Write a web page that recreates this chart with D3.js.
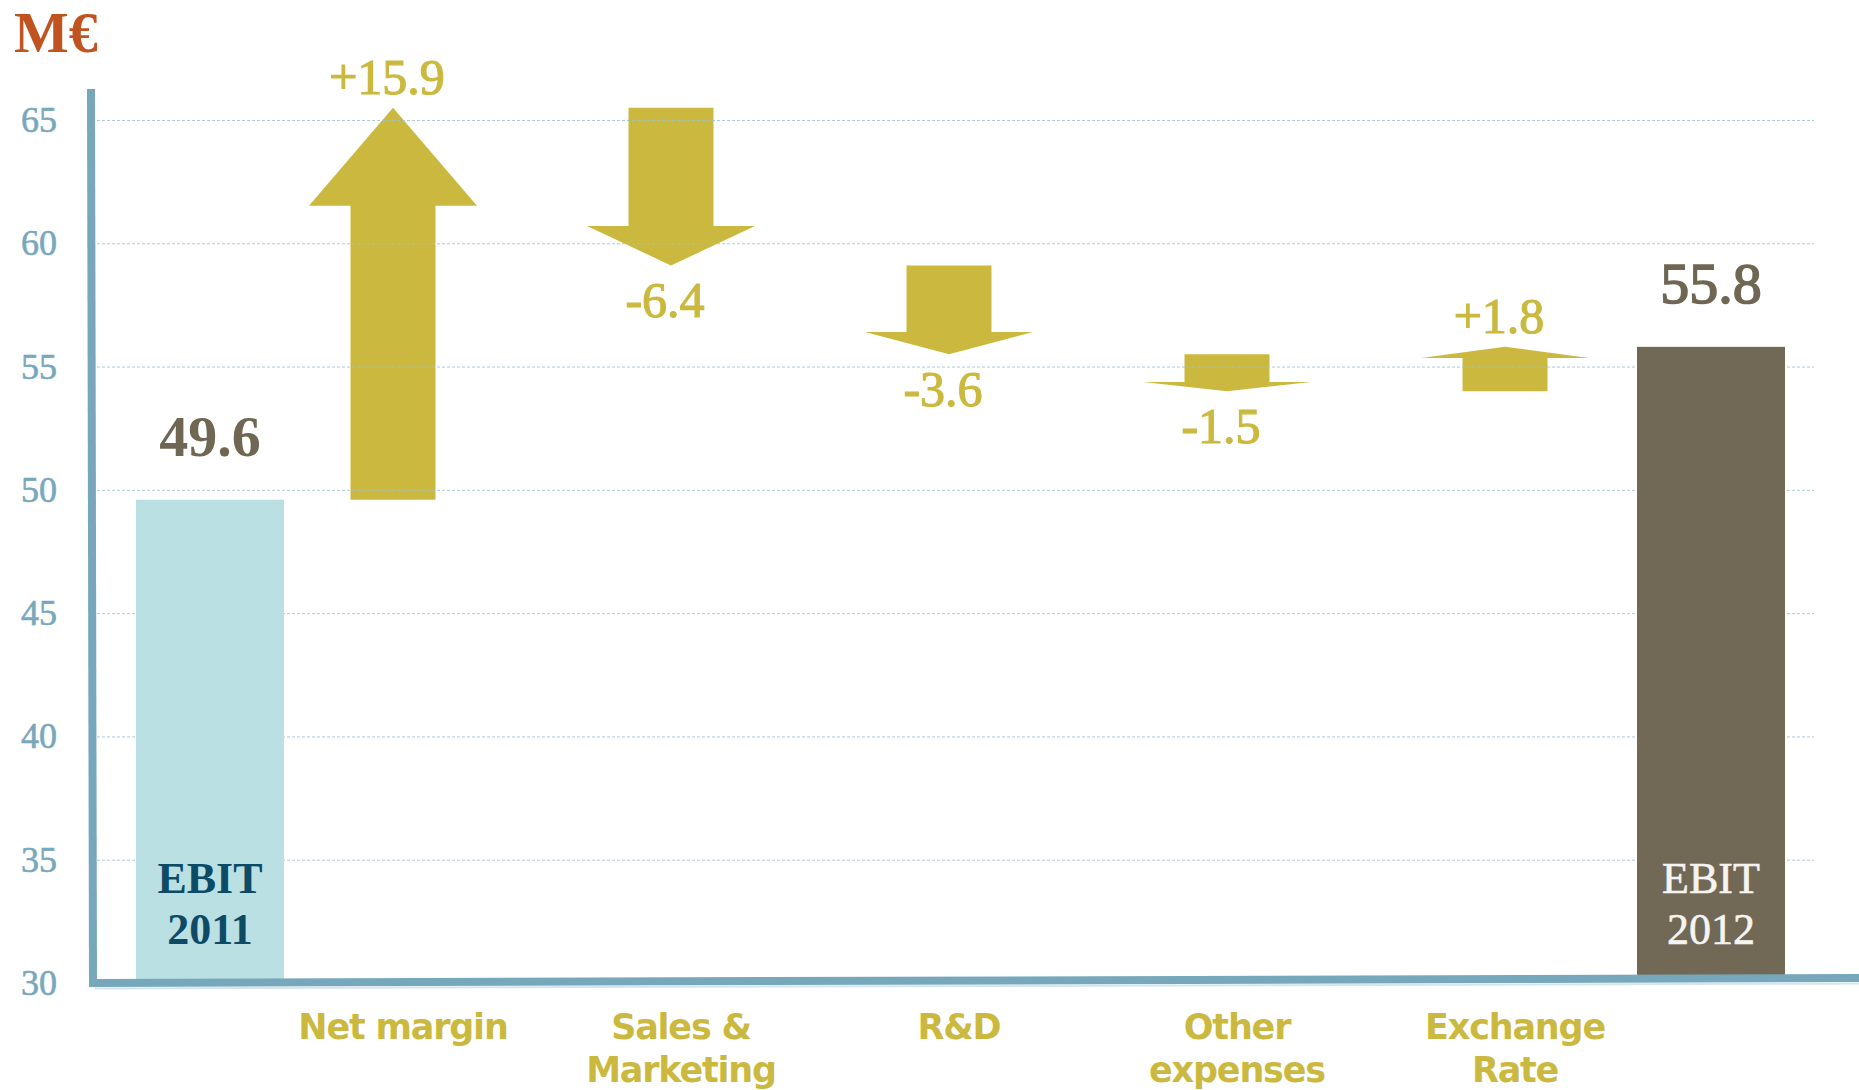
<!DOCTYPE html>
<html>
<head>
<meta charset="utf-8">
<script src="https://cdn.jsdelivr.net/npm/d3@7"></script>
<style>
  html, body { margin: 0; padding: 0; background: #ffffff; }
  svg { display: block; }
  .serif { font-family: "Liberation Serif", "Times New Roman", serif; }
  .sans { font-family: "DejaVu Sans", Verdana, sans-serif; }
</style>
</head>
<body>
<svg id="chart" width="1859" height="1090"></svg>
<script>
// EBIT bridge 2011 -> 2012, in millions of euros
const unitLabel = "M€";
const yTicks = [30, 35, 40, 45, 50, 55, 60, 65];

const startName = ["EBIT", "2011"];
const startValue = 49.6;

const changeCategories = ["Net margin", "Sales &\nMarketing", "R&D", "Other\nexpenses", "Exchange\nRate"];
const changeValues = [15.9, -6.4, -3.6, -1.5, 1.8];

const endName = ["EBIT", "2012"];
const endValue = 55.8;

// colours
const cArrow = "#cbb93f";
const cAxis = "#76a7ba";
const cTick = "#78a8bb";
const cGrid = "#9dbfcc";
const cTotalText = "#6f6753";
const cUnit = "#c0531f";

// look of the two total bars
const totalStyle = {
  start: { fill: "#bbe0e3", text: "#0d4a66", nameWeight: "bold", nameStroke: 0, valueWeight: "bold", valueStroke: 0 },
  end:   { fill: "#716856", text: "#f6f4f0", nameWeight: "normal", nameStroke: 0.6, valueWeight: "normal", valueStroke: 1.6 }
};

const svg = d3.select("#chart");

const y = d3.scaleLinear().domain([30, 65]).range([983, 120]);
const x = d3.scalePoint().domain(changeCategories).range([393, 1505]);

const barW = 148;
const startX = x(changeCategories[0]) - 183;
const endX = x(changeCategories[changeCategories.length - 1]) + 206;

// running totals for the bridge steps
let running = startValue;
const steps = changeCategories.map((cat, i) => {
  const from = running;
  running = +(running + changeValues[i]).toFixed(1);
  return { cat, value: changeValues[i], from, to: running };
});

// block arrows: shaft plus a head taking a quarter of the length
const shaftHalf = 42.5, headHalf = 84;
const arrowLine = d3.line();
function arrowPoints(cx, y0, y1) {
  const yb = y1 - 0.25 * (y1 - y0);
  return [
    [cx - shaftHalf, y0], [cx + shaftHalf, y0], [cx + shaftHalf, yb],
    [cx + headHalf, yb], [cx, y1], [cx - headHalf, yb], [cx - shaftHalf, yb]
  ];
}

svg.append("g").selectAll("path")
  .data(steps)
  .join("path")
  .attr("d", d => arrowLine(arrowPoints(x(d.cat), y(d.from), y(d.to))) + "Z")
  .attr("fill", cArrow);

// dashed horizontal gridlines
const grid = svg.append("g")
  .attr("transform", "translate(97,0)")
  .call(d3.axisRight(y).tickValues(yTicks.slice(1)).tickSize(1717).tickFormat(""));
grid.select(".domain").remove();
grid.selectAll("line")
  .attr("stroke", cGrid)
  .attr("stroke-width", 1)
  .attr("stroke-dasharray", "3,2")
  .attr("opacity", 0.85);

// start and end totals
const totals = [
  { name: startName, value: startValue, cx: startX, s: totalStyle.start },
  { name: endName, value: endValue, cx: endX, s: totalStyle.end }
];

svg.append("g").selectAll("rect")
  .data(totals)
  .join("rect")
  .attr("x", d => d.cx - barW / 2)
  .attr("width", barW)
  .attr("y", d => y(d.value))
  .attr("height", d => y(30) - y(d.value) - 4)
  .attr("fill", d => d.s.fill);

// axis lines
svg.append("path")
  .attr("d", "M91,89L93,987")
  .attr("stroke", cAxis).attr("stroke-width", 8).attr("fill", "none");
svg.append("path")
  .attr("d", "M89,983L1859,978")
  .attr("stroke", cAxis).attr("stroke-width", 8).attr("fill", "none");
svg.append("path")
  .attr("d", "M95,988.5L1859,983.5")
  .attr("stroke", "#d4e6ec").attr("stroke-width", 2).attr("fill", "none");

// y tick labels
const yAxis = svg.append("g")
  .attr("transform", "translate(91,0)")
  .call(d3.axisLeft(y).tickValues(yTicks).tickSize(0).tickPadding(34));
yAxis.attr("font-family", null).attr("font-size", null);
yAxis.select(".domain").remove();
yAxis.selectAll("text")
  .attr("class", "serif")
  .attr("fill", cTick)
  .attr("stroke", cTick)
  .attr("stroke-width", 0.6)
  .attr("font-size", 36)
  .attr("font-weight", "normal");

// unit
svg.append("text")
  .attr("class", "serif")
  .attr("x", 14).attr("y", 52)
  .attr("fill", cUnit)
  .attr("font-size", 58)
  .attr("font-weight", "bold")
  .text(unitLabel);

// total value labels above bars
svg.append("g").selectAll("text")
  .data(totals)
  .join("text")
  .attr("class", "serif")
  .attr("x", d => d.cx)
  .attr("y", d => y(d.value) - 44)
  .attr("text-anchor", "middle")
  .attr("fill", cTotalText)
  .attr("stroke", cTotalText)
  .attr("stroke-width", d => d.s.valueStroke)
  .attr("font-size", 58)
  .attr("font-weight", d => d.s.valueWeight)
  .text(d => d.value.toFixed(1));

// names inside total bars
const inner = svg.append("g").selectAll("text")
  .data(totals)
  .join("text")
  .attr("class", "serif")
  .attr("text-anchor", "middle")
  .attr("fill", d => d.s.text)
  .attr("stroke", d => d.s.text)
  .attr("stroke-width", d => d.s.nameStroke)
  .attr("font-size", 44)
  .attr("font-weight", d => d.s.nameWeight);
inner.selectAll("tspan")
  .data(d => d.name.map((s, i) => ({ s, i, cx: d.cx })))
  .join("tspan")
  .attr("x", d => d.cx)
  .attr("y", d => y(30) - 90 + d.i * 51)
  .text(d => d.s);

// change labels at arrow tips
svg.append("g").selectAll("text")
  .data(steps)
  .join("text")
  .attr("class", "serif")
  .attr("x", d => x(d.cat) - 6)
  .attr("y", d => d.value > 0 ? y(d.to) - 14 : y(d.to) + 52)
  .attr("text-anchor", "middle")
  .attr("fill", cArrow)
  .attr("stroke", cArrow)
  .attr("stroke-width", 1.2)
  .attr("font-size", 50)
  .attr("font-weight", "normal")
  .text(d => (d.value > 0 ? "+" : "-") + Math.abs(d.value).toFixed(1));

// category labels under the axis
const cats = svg.append("g").selectAll("text")
  .data(changeCategories)
  .join("text")
  .attr("class", "sans")
  .attr("text-anchor", "middle")
  .attr("fill", cArrow)
  .attr("font-size", 35)
  .attr("letter-spacing", "-1.2")
  .attr("font-weight", "bold");
cats.selectAll("tspan")
  .data(c => c.split("\n").map((s, i) => ({ s, i, cx: x(c) + 10 })))
  .join("tspan")
  .attr("x", d => d.cx)
  .attr("y", d => 1039 + d.i * 43)
  .text(d => d.s);
</script>
</body>
</html>
